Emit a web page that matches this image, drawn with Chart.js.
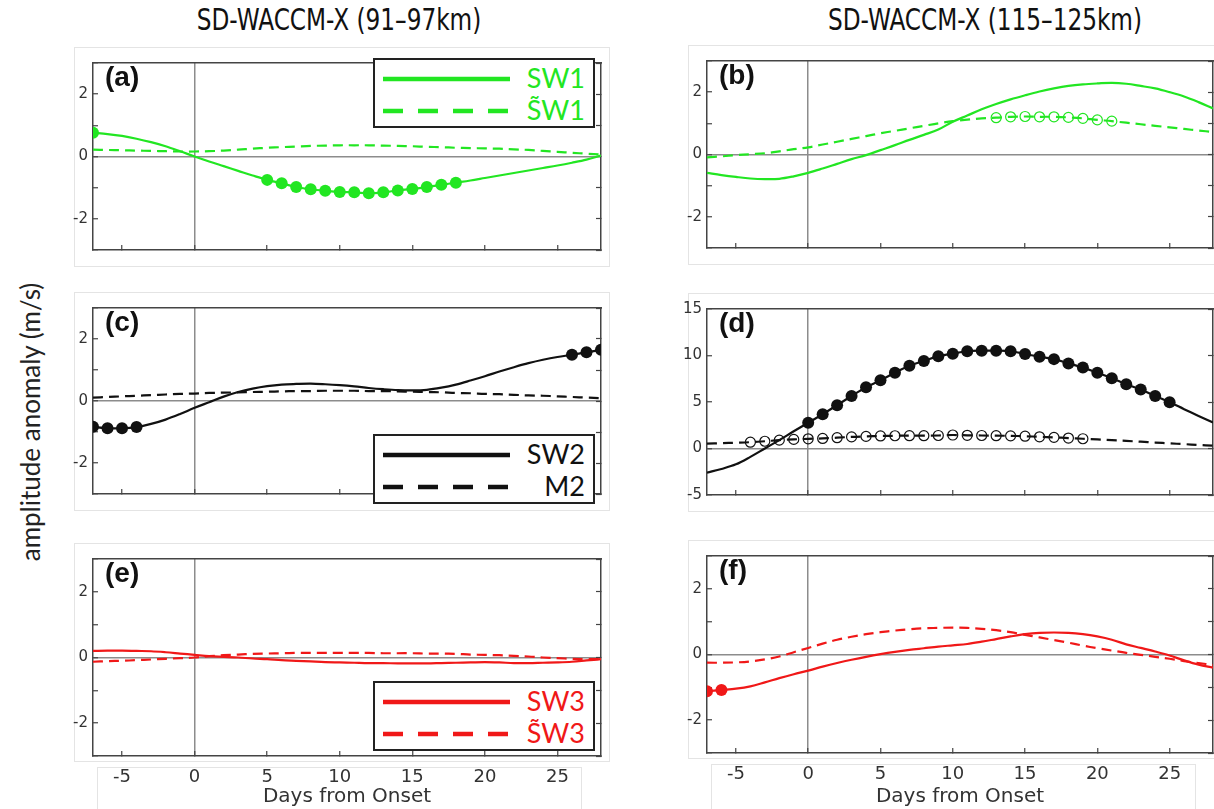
<!DOCTYPE html>
<html>
<head>
<meta charset="utf-8">
<script src="https://cdn.jsdelivr.net/npm/chart.js@4.4.1/dist/chart.umd.min.js"></script>
<style>
  html, body { margin: 0; padding: 0; background: #fff; overflow: hidden; }
  body { width: 1214px; height: 809px; position: relative; font-family: Lato, sans-serif; }
  canvas { position: absolute; }
  .frame { position: absolute; border: 1px solid #e4e4e4; box-sizing: border-box; }
  .coltitle { position: absolute; top: 2px; font-family: "DejaVu Sans Condensed", sans-serif; font-size: 30px; color: #111; white-space: nowrap; transform: translateX(-50%) scaleX(0.86); }
  .ylab { position: absolute; left: 30px; top: 422px; transform: translate(-50%, -50%) rotate(-90deg); font-size: 26px; white-space: nowrap; color: #222; }
  .tag { position: absolute; font-family: "Liberation Sans", Arial, sans-serif; font-weight: bold; font-size: 28px; line-height: 1; color: #111; }
  .legend { position: absolute; width: 222px; height: 70px; border: 2px solid #222; box-sizing: border-box; background: #fff; }
  .legend .row { position: absolute; left: 8px; right: 8px; height: 32px; }
  .legend svg { position: absolute; left: 0; top: 0; }
  .legend span { position: absolute; right: 0; top: 0; line-height: 32px; font-size: 27px; }
</style>
</head>
<body>
<div class="coltitle" style="left:339px">SD-WACCM-X (91–97km)</div>
<div class="coltitle" style="left:985px">SD-WACCM-X (115–125km)</div>
<div class="ylab">amplitude anomaly (m/s)</div>
<script>
const days = [-7, -6, -5, -4, -3, -2, -1, 0, 1, 2, 3, 4, 5, 6, 7, 8, 9, 10, 11, 12,
  13, 14, 15, 16, 17, 18, 19, 20, 21, 22, 23, 24, 25, 26, 27, 28];
const xTicks = [-5, 0, 5, 10, 15, 20, 25];
const yTicksSmall = [-3, -2, -1, 0, 1, 2, 3];
const yLabelsSmall = [-2, 0, 2];
const yTicksD = [-5, 0, 5, 10, 15];

// (a) 91-97 km, SW1
const sw1Low = [0.76, 0.72, 0.66, 0.57, 0.46, 0.33, 0.17, 0.00, -0.16, -0.31, -0.46, -0.61,
  -0.75, -0.86, -0.98, -1.05, -1.10, -1.14, -1.15, -1.18, -1.15, -1.09, -1.04, -0.98,
  -0.91, -0.84, -0.77, -0.69, -0.61, -0.53, -0.45, -0.37, -0.29, -0.20, -0.10, 0.03];
const sw1tLow = [0.22, 0.21, 0.20, 0.19, 0.18, 0.17, 0.16, 0.16, 0.17, 0.19, 0.22, 0.25,
  0.28, 0.30, 0.32, 0.34, 0.35, 0.36, 0.36, 0.36, 0.35, 0.34, 0.33, 0.31,
  0.30, 0.28, 0.27, 0.26, 0.25, 0.23, 0.21, 0.18, 0.15, 0.12, 0.09, 0.06];
const sw1LowSig = [-7, 5, 6, 7, 8, 9, 10, 11, 12, 13, 14, 15, 16, 17, 18];
const sw1tLowSig = [];

// (b) 115-125 km, SW1
const sw1High = [-0.59, -0.66, -0.72, -0.77, -0.79, -0.78, -0.70, -0.59, -0.45, -0.30, -0.15, -0.02,
  0.14, 0.30, 0.47, 0.63, 0.80, 1.05, 1.25, 1.45, 1.62, 1.77, 1.90, 2.02,
  2.12, 2.20, 2.25, 2.28, 2.30, 2.27, 2.20, 2.12, 2.00, 1.86, 1.68, 1.48];
const sw1tHigh = [-0.09, -0.06, -0.02, 0.01, 0.04, 0.10, 0.17, 0.23, 0.32, 0.41, 0.50, 0.59,
  0.68, 0.76, 0.84, 0.92, 1.00, 1.07, 1.12, 1.16, 1.18, 1.21, 1.22, 1.21,
  1.21, 1.19, 1.16, 1.11, 1.07, 1.02, 0.97, 0.92, 0.87, 0.82, 0.77, 0.72];
const sw1HighSig = [];
const sw1tHighSig = [13, 14, 15, 16, 17, 18, 19, 20, 21];

// (c) 91-97 km, SW2 / M2
const sw2Low = [-0.83, -0.88, -0.88, -0.84, -0.74, -0.60, -0.42, -0.22, -0.04, 0.14, 0.29, 0.40,
  0.48, 0.53, 0.55, 0.56, 0.54, 0.51, 0.47, 0.42, 0.38, 0.35, 0.34, 0.36,
  0.43, 0.53, 0.66, 0.80, 0.95, 1.09, 1.22, 1.33, 1.42, 1.49, 1.57, 1.65];
const m2Low = [0.11, 0.13, 0.15, 0.17, 0.19, 0.21, 0.23, 0.24, 0.26, 0.27, 0.28, 0.29,
  0.30, 0.31, 0.32, 0.32, 0.33, 0.33, 0.33, 0.32, 0.32, 0.31, 0.30, 0.29,
  0.28, 0.26, 0.25, 0.23, 0.22, 0.20, 0.18, 0.17, 0.15, 0.13, 0.11, 0.09];
const sw2LowSig = [-7, -6, -5, -4, 26, 27, 28];
const m2LowSig = [];

// (d) 115-125 km, SW2 / M2
const sw2High = [-2.60, -2.20, -1.70, -0.90, 0.00, 0.90, 1.85, 2.77, 3.68, 4.66, 5.64, 6.58,
  7.33, 8.14, 8.89, 9.41, 9.93, 10.20, 10.46, 10.52, 10.52, 10.46, 10.16, 9.87,
  9.61, 9.15, 8.70, 8.14, 7.56, 6.90, 6.35, 5.64, 4.98, 4.23, 3.50, 2.80];
const m2High = [0.52, 0.57, 0.62, 0.68, 0.78, 0.90, 0.98, 1.04, 1.08, 1.16, 1.25, 1.30,
  1.35, 1.37, 1.38, 1.38, 1.40, 1.45, 1.42, 1.40, 1.38, 1.36, 1.32, 1.26,
  1.20, 1.12, 1.05, 0.98, 0.90, 0.82, 0.73, 0.64, 0.55, 0.47, 0.38, 0.30];
const sw2HighSig = [0, 1, 2, 3, 4, 5, 6, 7, 8, 9, 10, 11, 12, 13, 14, 15, 16, 17, 18, 19,
  20, 21, 22, 23, 24, 25];
const m2HighSig = [-4, -3, -2, -1, 0, 1, 2, 3, 4, 5, 6, 7, 8, 9, 10, 11, 12, 13, 14, 15,
  16, 17, 18, 19];

// (e) 91-97 km, SW3
const sw3Low = [0.20, 0.21, 0.21, 0.20, 0.19, 0.16, 0.12, 0.08, 0.04, 0.02, 0.00, -0.03,
  -0.05, -0.08, -0.10, -0.12, -0.14, -0.15, -0.16, -0.17, -0.17, -0.18, -0.18, -0.18,
  -0.17, -0.16, -0.15, -0.14, -0.15, -0.17, -0.17, -0.16, -0.15, -0.13, -0.09, -0.05];
const sw3tLow = [-0.13, -0.11, -0.10, -0.08, -0.06, -0.04, -0.02, 0.00, 0.04, 0.07, 0.09, 0.11,
  0.12, 0.13, 0.14, 0.14, 0.14, 0.14, 0.14, 0.14, 0.13, 0.13, 0.13, 0.12,
  0.12, 0.11, 0.09, 0.08, 0.07, 0.05, 0.03, 0.00, -0.02, -0.04, -0.05, -0.05];
const sw3LowSig = [];
const sw3tLowSig = [];

// (f) 115-125 km, SW3
const sw3High = [-1.12, -1.08, -1.04, -0.97, -0.85, -0.72, -0.60, -0.49, -0.37, -0.26, -0.16, -0.07,
  0.01, 0.08, 0.14, 0.19, 0.24, 0.28, 0.32, 0.39, 0.47, 0.55, 0.62, 0.66,
  0.67, 0.66, 0.62, 0.55, 0.45, 0.31, 0.20, 0.09, -0.03, -0.18, -0.31, -0.40];
const sw3tHigh = [-0.25, -0.25, -0.24, -0.21, -0.15, -0.06, 0.07, 0.20, 0.33, 0.45, 0.54, 0.62,
  0.68, 0.73, 0.77, 0.80, 0.81, 0.82, 0.81, 0.78, 0.74, 0.68, 0.60, 0.52,
  0.44, 0.36, 0.27, 0.19, 0.12, 0.05, -0.01, -0.07, -0.13, -0.20, -0.26, -0.32];
const sw3HighSig = [-7, -6];
const sw3tHighSig = [];

const GREEN = '#22e622';
const BLACK = '#111111';
const RED = '#f01818';

function series(label, values, sig, color, dashed, open) {
  return { label, values, sig, color, dashed, open };
}

const panels = [
  { tag: '(a)', area: [93, 54, 601, 261], y: [-3, 3], yTicks: yTicksSmall, yLabels: yLabelsSmall, bottom: false,
    legend: { left: 373, top: 58 },
    series: [series('SW1', sw1Low, sw1LowSig, GREEN, false, false), series('S\u0303W1', sw1tLow, sw1tLowSig, GREEN, true, true)] },
  { tag: '(b)', area: [707, 52, 1213, 259], y: [-3, 3], yTicks: yTicksSmall, yLabels: yLabelsSmall, bottom: false,
    series: [series('SW1', sw1High, sw1HighSig, GREEN, false, false), series('S\u0303W1', sw1tHigh, sw1tHighSig, GREEN, true, true)] },
  { tag: '(c)', area: [93, 299, 601, 505], y: [-3, 3], yTicks: yTicksSmall, yLabels: yLabelsSmall, bottom: false,
    legend: { left: 373, top: 434 },
    series: [series('SW2', sw2Low, sw2LowSig, BLACK, false, false), series('M2', m2Low, m2LowSig, BLACK, true, true)] },
  { tag: '(d)', area: [707, 300, 1213, 506], y: [-5, 15], yTicks: yTicksD, yLabels: yTicksD, bottom: false,
    series: [series('SW2', sw2High, sw2HighSig, BLACK, false, false), series('M2', m2High, m2HighSig, BLACK, true, true)] },
  { tag: '(e)', area: [93, 550, 601, 756], y: [-3, 3], yTicks: yTicksSmall, yLabels: yLabelsSmall, bottom: true,
    legend: { left: 373, top: 681 },
    series: [series('SW3', sw3Low, sw3LowSig, RED, false, false), series('S\u0303W3', sw3tLow, sw3tLowSig, RED, true, true)] },
  { tag: '(f)', area: [707, 547, 1213, 753], y: [-3, 3], yTicks: yTicksSmall, yLabels: yLabelsSmall, bottom: true,
    series: [series('SW3', sw3High, sw3HighSig, RED, false, false), series('S\u0303W3', sw3tHigh, sw3tHighSig, RED, true, true)] }
];

const AXIS = '#444';
const ZERO = '#8c8c8c';
const LEFT_W = 43, RIGHT_W = 8, TOP_H = 10, BOTTOM_H = 8;

function addFrame(x1, y1, x2, y2) {
  const d = document.createElement('div');
  d.className = 'frame';
  Object.assign(d.style, { left: x1 + 'px', top: y1 + 'px', width: (x2 - x1) + 'px', height: (y2 - y1) + 'px' });
  document.body.appendChild(d);
}

panels.forEach(function (p) {
  const [x1, y1, x2, y2] = p.area;
  addFrame(x1 - 19, y1 - 7, x2 + 9, y2 + 6);
  if (p.bottom) addFrame(x1 + 4, y2 + 11, x1 + 489, 812);
});

panels.forEach(function (p) {
  const [x1, y1, x2, y2] = p.area;
  const bottomH = p.bottom ? 809 - y2 : BOTTOM_H;
  const canvas = document.createElement('canvas');
  const w = LEFT_W + (x2 - x1) + RIGHT_W;
  const h = TOP_H + (y2 - y1) + bottomH;
  canvas.width = w; canvas.height = h;
  canvas.style.left = (x1 - LEFT_W) + 'px';
  canvas.style.top = (y1 - TOP_H) + 'px';
  canvas.style.width = w + 'px';
  canvas.style.height = h + 'px';
  document.body.appendChild(canvas);

  const datasets = p.series.map(function (s) {
    return {
      label: s.label,
      data: days.map((d, i) => ({ x: d, y: s.values[i] })),
      borderColor: s.color,
      borderWidth: 2.2,
      borderDash: s.dashed ? [10, 6] : [],
      tension: 0.35,
      pointRadius: ctx => s.sig.includes(days[ctx.dataIndex]) ? (s.open ? 5 : 6) : 0,
      pointBackgroundColor: s.open ? 'rgba(0,0,0,0)' : s.color,
      pointBorderColor: s.color,
      pointBorderWidth: s.open ? 1.2 : 0
    };
  });

  const zeroGrid = c => (c.tick && c.tick.value === 0) ? ZERO : 'rgba(0,0,0,0)';

  new Chart(canvas.getContext('2d'), {
    type: 'line',
    data: { datasets },
    options: {
      responsive: false,
      animation: false,
      layout: { padding: 0 },
      plugins: { legend: { display: false }, tooltip: { enabled: false } },
      scales: {
        x: {
          type: 'linear', position: 'bottom', min: -7, max: 28,
          afterBuildTicks: s => { s.ticks = xTicks.map(v => ({ value: v })); },
          afterFit: s => { s.height = bottomH; },
          grid: { color: zeroGrid, lineWidth: 1.5, tickColor: AXIS, tickLength: -5, tickWidth: 1.2 },
          border: { color: AXIS, width: 1.5 },
          ticks: { display: p.bottom, padding: 16, color: '#333', font: { family: 'DejaVu Sans', size: 18 } },
          title: { display: p.bottom, text: 'Days from Onset', color: '#333', padding: { top: 0, bottom: 0 },
            font: { family: 'DejaVu Sans', size: 20 } }
        },
        xTop: {
          type: 'linear', position: 'top', min: -7, max: 28,
          afterFit: s => { s.height = TOP_H; },
          grid: { display: false },
          ticks: { display: false },
          border: { color: AXIS, width: 1.5 }
        },
        y: {
          type: 'linear', position: 'left', min: p.y[0], max: p.y[1],
          afterBuildTicks: s => { s.ticks = p.yTicks.map(v => ({ value: v })); },
          afterFit: s => { s.width = LEFT_W; },
          grid: { color: zeroGrid, lineWidth: 1.5, tickColor: AXIS, tickLength: -5, tickWidth: 1.2 },
          border: { color: AXIS, width: 1.5 },
          ticks: { padding: 10, color: '#333', font: { family: 'DejaVu Sans', size: 15 },
            callback: v => p.yLabels.includes(v) ? String(v) : '' }
        },
        yRight: {
          type: 'linear', position: 'right', min: p.y[0], max: p.y[1],
          afterBuildTicks: s => { s.ticks = p.yTicks.map(v => ({ value: v })); },
          afterFit: s => { s.width = RIGHT_W; },
          grid: { drawOnChartArea: false, tickColor: AXIS, tickLength: -5, tickWidth: 1.2 },
          border: { color: AXIS, width: 1.5 },
          ticks: { display: false }
        }
      }
    }
  });

  const tag = document.createElement('div');
  tag.className = 'tag';
  tag.textContent = p.tag;
  tag.style.left = (x1 + 12) + 'px';
  tag.style.top = (y1 + 9) + 'px';
  document.body.appendChild(tag);

  if (p.legend) {
    const box = document.createElement('div');
    box.className = 'legend';
    box.style.left = p.legend.left + 'px';
    box.style.top = p.legend.top + 'px';
    p.series.forEach(function (s, i) {
      const row = document.createElement('div');
      row.className = 'row';
      row.style.top = (2 + i * 32) + 'px';
      const dash = s.dashed ? ' stroke-dasharray="20 15"' : '';
      row.innerHTML = '<svg width="128" height="32"><line x1="0" y1="17" x2="127" y2="17" stroke="' + s.color +
        '" stroke-width="4.5"' + dash + '/></svg><span style="color:' + s.color + '">' + s.label + '</span>';
      box.appendChild(row);
    });
    document.body.appendChild(box);
  }
});
</script>
</body>
</html>
